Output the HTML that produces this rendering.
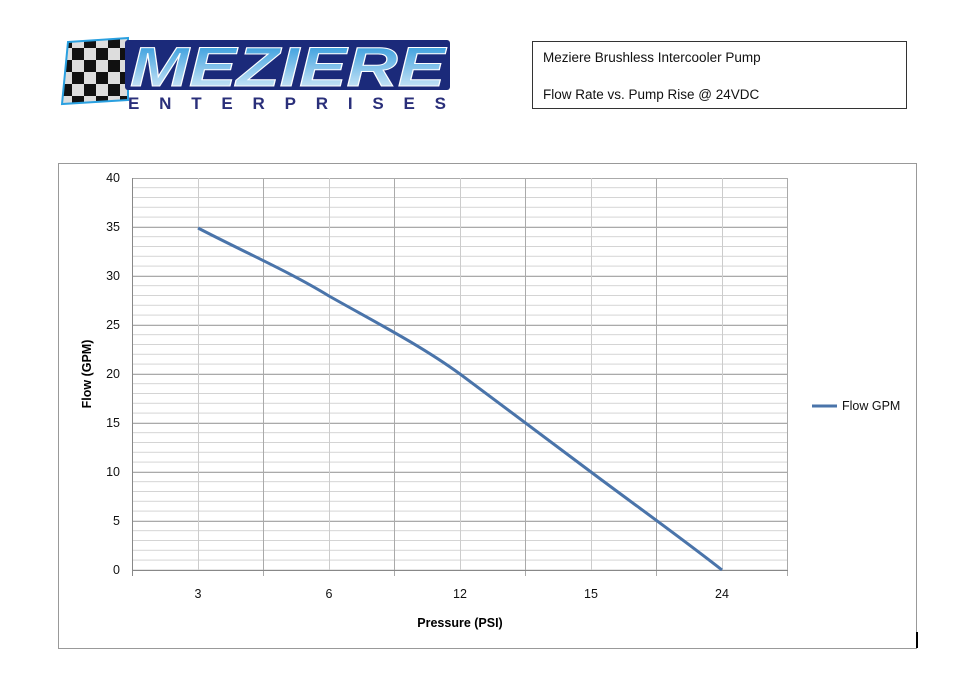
<!DOCTYPE html>
<html><head><style>
body{margin:0;background:#fff;width:960px;height:693px;overflow:hidden;font-family:"Liberation Sans",sans-serif;}
</style></head><body>
<svg width="960" height="693" xmlns="http://www.w3.org/2000/svg" font-family="Liberation Sans, sans-serif">
<defs>
<linearGradient id="g" x1="0" y1="0" x2="0" y2="1"><stop offset="0" stop-color="#1a8fd8"/><stop offset="1" stop-color="#e8f4fc"/></linearGradient>
<pattern id="chk" width="24" height="24" patternUnits="userSpaceOnUse"><rect width="24" height="24" fill="#ddd"/><rect width="12" height="12" fill="#111"/><rect x="12" y="12" width="12" height="12" fill="#111"/></pattern>
<pattern id="minorY" x="0" y="0.5" width="656" height="9.8" patternUnits="userSpaceOnUse"><line x1="0" x2="656" y1="0.5" y2="0.5" stroke="#d4d4d4"/></pattern>
</defs>
<path d="M68 42 L128 38 L128 100 L62 104 Z" fill="url(#chk)" stroke="#2aa0e0" stroke-width="2"/>
<rect x="125" y="40" width="325" height="50" fill="#1b2a7a" rx="3"/>
<text x="130" y="86" font-size="56" font-weight="bold" font-style="italic" fill="url(#g)" stroke="#fff" stroke-width="1" textLength="315" lengthAdjust="spacingAndGlyphs">MEZIERE</text>
<text x="128" y="109" font-size="17" font-weight="bold" fill="#2a2f7a" textLength="318" lengthAdjust="spacing">ENTERPRISES</text>
<rect x="532.5" y="41.5" width="374" height="67" fill="#fff" stroke="#333"/>
<text x="543" y="62" font-size="13.5" fill="#111">Meziere Brushless Intercooler  Pump</text>
<text x="543" y="99" font-size="13.5" fill="#111">Flow Rate vs. Pump Rise @ 24VDC</text>
<rect x="58.5" y="163.5" width="858" height="485" fill="#fff" stroke="#999"/>
<line x1="917" y1="632" x2="917" y2="648" stroke="#000" stroke-width="2"/>
<rect x="132" y="178" width="656" height="393" fill="url(#minorY)" transform="translate(0,0.5)"/>
<g stroke="#aaa">
<line x1="132" x2="788" y1="178.5" y2="178.5"/><line x1="132" x2="788" y1="227.5" y2="227.5"/><line x1="132" x2="788" y1="276.5" y2="276.5"/><line x1="132" x2="788" y1="325.5" y2="325.5"/><line x1="132" x2="788" y1="374.5" y2="374.5"/><line x1="132" x2="788" y1="423.5" y2="423.5"/><line x1="132" x2="788" y1="472.5" y2="472.5"/><line x1="132" x2="788" y1="521.5" y2="521.5"/>
<line y1="178" y2="576" x1="263.5" x2="263.5"/><line y1="178" y2="576" x1="394.5" x2="394.5"/><line y1="178" y2="576" x1="525.5" x2="525.5"/><line y1="178" y2="576" x1="656.5" x2="656.5"/><line y1="178" y2="576" x1="787.5" x2="787.5"/>
</g>
<g stroke="#ccc">
<line y1="178" y2="570" x1="198.5" x2="198.5"/><line y1="178" y2="570" x1="329.5" x2="329.5"/><line y1="178" y2="570" x1="460.5" x2="460.5"/><line y1="178" y2="570" x1="591.5" x2="591.5"/><line y1="178" y2="570" x1="722.5" x2="722.5"/>
</g>
<line x1="132.5" y1="178" x2="132.5" y2="576" stroke="#888"/>
<line x1="132" y1="570.5" x2="788" y2="570.5" stroke="#888"/>
<g font-size="12.5" fill="#111" text-anchor="end">
<text x="120" y="182">40</text><text x="120" y="231">35</text><text x="120" y="280">30</text><text x="120" y="329">25</text><text x="120" y="378">20</text><text x="120" y="427">15</text><text x="120" y="476">10</text><text x="120" y="525">5</text><text x="120" y="574">0</text>
</g>
<g font-size="12.5" fill="#111" text-anchor="middle">
<text x="198" y="598">3</text><text x="329" y="598">6</text><text x="460" y="598">12</text><text x="591" y="598">15</text><text x="722" y="598">24</text>
</g>
<text x="460" y="627" font-size="12.5" font-weight="bold" text-anchor="middle">Pressure (PSI)</text>
<text transform="translate(91,374) rotate(-90)" font-size="12.5" font-weight="bold" text-anchor="middle">Flow (GPM)</text>
<path d="M198 228 C240 250 290 272 329 296 C375 322 420 345 460 374 C505 408 548 440 591 472 C635 505 680 537 722 570" fill="none" stroke="#4a74aa" stroke-width="3"/>
<line x1="812" y1="406" x2="837" y2="406" stroke="#4a74aa" stroke-width="3"/>
<text x="842" y="410" font-size="12.5" fill="#111">Flow GPM</text>
</svg>
</body></html>
